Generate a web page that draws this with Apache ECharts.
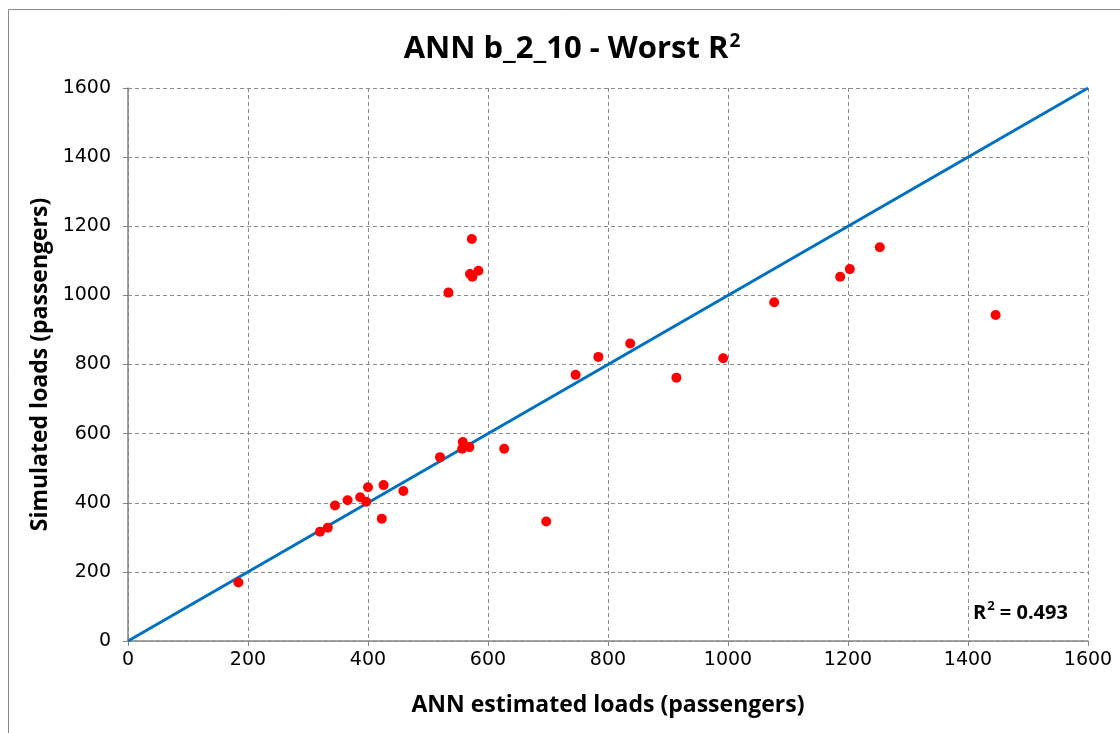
<!DOCTYPE html>
<html>
<head>
<meta charset="utf-8">
<script src="https://cdn.jsdelivr.net/npm/echarts@6/dist/echarts.min.js"></script>
<style>html,body{margin:0;padding:0;background:#fff;}#c{width:1120px;height:733px;}</style>
</head>
<body>
<div id="c"></div>
<script>
// ANN estimated loads (x) vs simulated loads (y)
const annEstimated = [184, 320, 333, 345, 366, 387, 397, 400, 426, 423, 459, 520, 534, 557, 558, 569, 573, 570, 574, 584, 627, 697, 746, 784, 837, 914, 992, 1077, 1187, 1203, 1253, 1446];
const simulated    = [169, 316, 328, 392, 407, 416, 403, 445, 451, 354, 434, 532, 1008, 556, 576, 561, 1163, 1062, 1054, 1071, 556, 346, 770, 822, 861, 762, 818, 980, 1054, 1076, 1139, 943];
const fitX = [0, 1600];
const fitY = [0, 1600];
const r2Value = '0.493';

const points = annEstimated.map((x, i) => [x, simulated[i]]);
const fitLine = fitX.map((x, i) => [x, fitY[i]]);

const chart = echarts.init(document.getElementById('c'), null, {renderer: 'canvas'});
const gridLine = {show: true, lineStyle: {color: '#8c8c8c', type: [4, 3], width: 1}};
chart.setOption({
  animation: false,
  backgroundColor: '#fff',
  title: {
    text: '{t|ANN b_2_10 - Worst R}{s|2}',
    left: 567, top: 20, textAlign: 'center',
    textStyle: {
      rich: {
        t: {fontFamily: 'Open Sans', fontWeight: 'bold', fontSize: 31, color: '#000', verticalAlign: 'bottom', lineHeight: 40},
        s: {fontFamily: 'Open Sans', fontWeight: 'bold', fontSize: 19, color: '#000', verticalAlign: 'top', lineHeight: 22, padding: [7, 0, 0, 1]}
      }
    }
  },
  graphic: [
    {type: 'rect', shape: {x: 8.5, y: 9.5, width: 1300, height: 1000}, style: {fill: null, stroke: '#8a8a8a', lineWidth: 1}, z: -10},
    {type: 'text', left: 973, top: 595, style: {
      text: '{t|R}{s|2}{t| = ' + r2Value + '}',
      rich: {
        t: {fontFamily: 'Open Sans', fontWeight: 'bold', fontSize: 20, fill: '#000', verticalAlign: 'bottom', lineHeight: 28},
        s: {fontFamily: 'Open Sans', fontWeight: 'bold', fontSize: 13, fill: '#000', verticalAlign: 'top', lineHeight: 16, padding: [5, 0, 0, 1]}
      }
    }}
  ],
  grid: {left: 128, right: 32, top: 88, bottom: 92},
  xAxis: {
    type: 'value', min: 0, max: 1600, interval: 200,
    name: 'ANN estimated loads (passengers)', nameLocation: 'middle', nameGap: 53,
    nameTextStyle: {fontFamily: 'Open Sans', fontWeight: 'bold', fontSize: 23, color: '#000'},
    axisLine: {show: true, onZero: false, lineStyle: {color: '#868686', width: 1.5}},
    axisTick: {show: true, length: 5, inside: false, lineStyle: {color: '#868686'}},
    axisLabel: {fontFamily: 'DejaVu Sans', fontSize: 19, color: '#000', margin: 10, formatter: v => String(v)},
    splitLine: gridLine
  },
  yAxis: {
    type: 'value', min: 0, max: 1600, interval: 200,
    name: 'Simulated loads (passengers)', nameLocation: 'middle', nameGap: 74, nameRotate: 90,
    nameTextStyle: {fontFamily: 'Open Sans', fontWeight: 'bold', fontSize: 23, color: '#000'},
    axisLine: {show: true, onZero: false, lineStyle: {color: '#868686', width: 1.5}},
    axisTick: {show: true, length: 5, inside: false, lineStyle: {color: '#868686'}},
    axisLabel: {fontFamily: 'DejaVu Sans', fontSize: 19, color: '#000', margin: 17, formatter: v => String(v)},
    splitLine: gridLine
  },
  series: [
    {type: 'line', data: fitLine, showSymbol: false, symbol: 'none', lineStyle: {color: '#0070C0', width: 3}, z: 2},
    {type: 'scatter', data: points, symbol: 'circle', symbolSize: 10, itemStyle: {color: '#FF0000', opacity: 1}, z: 3}
  ]
});
</script>
</body>
</html>
